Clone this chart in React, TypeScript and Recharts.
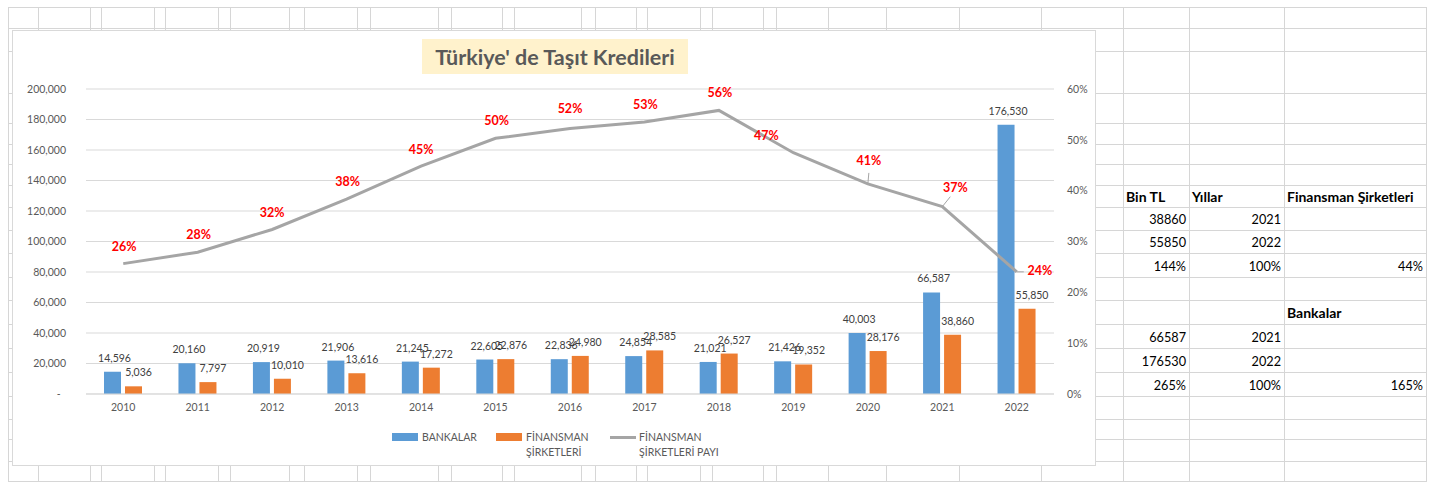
import React from 'react';
import { ComposedChart, Bar, Line, XAxis, YAxis, CartesianGrid, LabelList, Legend } from 'recharts';

// ---------- data ----------
const years = ['2010', '2011', '2012', '2013', '2014', '2015', '2016', '2017', '2018', '2019', '2020', '2021', '2022'];
const bankalar = [14596, 20160, 20919, 21906, 21245, 22605, 22836, 24854, 21021, 21426, 40003, 66587, 176530];
const finansman = [5036, 7797, 10010, 13616, 17272, 22876, 24980, 28585, 26527, 19352, 28176, 38860, 55850];
const finansmanPayi = [0.2565, 0.2789, 0.3236, 0.3833, 0.4484, 0.503, 0.5224, 0.5349, 0.5579, 0.4746, 0.4133, 0.3685, 0.2403];
const leftTicks = [0, 20000, 40000, 60000, 80000, 100000, 120000, 140000, 160000, 180000, 200000];
const rightTicks = [0, 0.1, 0.2, 0.3, 0.4, 0.5, 0.6];

const chartTitle = "Türkiye' de Taşıt Kredileri";
const seriesNames = ['BANKALAR', 'FİNANSMAN ŞİRKETLERİ', 'FİNANSMAN ŞİRKETLERİ PAYI'];

const tableHeader = ['Bin TL', 'Yıllar', 'Finansman Şirketleri'];
const finansmanRows = [
  ['38860', '2021', ''],
  ['55850', '2022', ''],
  ['144%', '100%', '44%'],
];
const bankalarTitle = 'Bankalar';
const bankalarRows = [
  ['66587', '2021', ''],
  ['176530', '2022', ''],
  ['265%', '100%', '165%'],
];

// ---------- layout (not data) ----------
const gridCols = [8, 38, 90, 101, 154, 165, 218, 230, 289, 304, 357, 370, 438, 451, 502, 514, 581, 595, 636, 647, 700, 712, 763, 776, 828, 886, 959, 1041, 1123, 1189, 1284, 1426];
const gridRows = [7, 28, 51, 93, 123, 144, 164, 185, 207, 230, 253, 277, 300, 324, 348, 372, 396, 419, 439, 461, 481];
const tableCols = [1123, 1189, 1284, 1426];

// label offsets (dx, dy) for the share labels, relative to the point
const pctShift: [number, number][] = [
  [1, -17], [1, -18], [0, -17], [1, -17.5], [0, -17], [1, -17.5], [0, -20],
  [1, -18], [1, -17.5], [-27, -17], [1, -23], [13, -19], [23, -1],
];
const leaders: Record<number, [number, number]> = { 10: [1, -11], 11: [8, -10], 12: [7, 0] };

const data = years.map((y, i) => ({
  year: y,
  bankalar: bankalar[i],
  finansman: finansman[i],
  pay: finansmanPayi[i],
}));

const FONT = 'Lato, "Open Sans", sans-serif';

const PctLabel = (props: any) => {
  const vb = props.viewBox || {};
  const x = props.x ?? vb.x;
  const y = props.y ?? vb.y;
  const index = props.index;
  const value = props.value;
  if (x == null || y == null || index == null) return null;
  const [dx, dy] = pctShift[index] || [0, -17];
  const ld = leaders[index];
  return (
    <g>
      {ld && <line x1={x} y1={y} x2={x + ld[0]} y2={y + ld[1]} stroke="#A5A5A5" strokeWidth={1} />}
      <text
        x={x + dx}
        y={y + dy}
        textAnchor="middle"
        dominantBaseline="central"
        fill="#FF0000"
        fontWeight="bold"
        fontSize={12.5}
        fontFamily={FONT}
      >
        {Math.round(Number(value) * 100)}%
      </text>
    </g>
  );
};

const makeBarLabel = (shiftX: number) => (props: any) => {
  const vb = props.viewBox || {};
  const x = (props.x ?? vb.x) as number;
  const y = (props.y ?? vb.y) as number;
  const w = (props.width ?? vb.width ?? 0) as number;
  if (x == null || y == null || props.value == null) return null;
  return (
    <text
      x={x + w / 2 + shiftX}
      y={y - 10}
      textAnchor="middle"
      fill="#404040"
      fontSize={10.5}
      fontFamily={FONT}
    >
      {Number(props.value).toLocaleString('en-US')}
    </text>
  );
};
const BankLabel = makeBarLabel(2);
const FinLabel = makeBarLabel(5);

const LegendContent = () => {
  const txt: React.CSSProperties = {
    position: 'absolute',
    fontFamily: FONT,
    fontSize: 10.5,
    color: '#595959',
    lineHeight: '15px',
    whiteSpace: 'pre',
  };
  const [n1, n2, n3] = seriesNames;
  return (
    <div style={{ position: 'relative', width: 1082, height: 41 }}>
      <div style={{ position: 'absolute', left: 379, top: 9, width: 26, height: 8, background: '#5B9BD5' }} />
      <div style={{ ...txt, left: 409, top: 6 }}>{n1}</div>
      <div style={{ position: 'absolute', left: 483, top: 9, width: 26, height: 8, background: '#ED7D31' }} />
      <div style={{ ...txt, left: 513, top: 6 }}>{n2.replace(' ', '\n')}</div>
      <div style={{ position: 'absolute', left: 597, top: 12, width: 26, height: 3, background: '#A5A5A5' }} />
      <div style={{ ...txt, left: 626, top: 6 }}>{n3.replace(' ', '\n')}</div>
    </div>
  );
};

const Cell = ({ x0, x1, y0, y1, text, align, bold }: any) => (
  <div
    style={{
      position: 'absolute',
      left: x0,
      top: y0,
      width: x1 - x0,
      height: y1 - y0,
      display: 'flex',
      alignItems: 'center',
      justifyContent: align === 'right' ? 'flex-end' : 'flex-start',
      boxSizing: 'border-box',
      padding: '1px 3px 0 3px',
      fontFamily: FONT,
      fontSize: bold ? 14 : 12.7,
      fontWeight: bold ? 'bold' : 'normal',
      color: '#000',
      whiteSpace: 'nowrap',
    }}
  >
    {text}
  </div>
);

export default function App() {
  const cells: any[] = [];
  tableHeader.forEach((t, c) => {
    cells.push({ x0: tableCols[c], x1: tableCols[c + 1], y0: gridRows[7], y1: gridRows[8], text: t, align: 'left', bold: true });
  });
  finansmanRows.forEach((row, r) => {
    row.forEach((t, c) => {
      if (t) cells.push({ x0: tableCols[c], x1: tableCols[c + 1], y0: gridRows[8 + r], y1: gridRows[9 + r], text: t, align: 'right' });
    });
  });
  cells.push({ x0: tableCols[2], x1: tableCols[3], y0: gridRows[12], y1: gridRows[13], text: bankalarTitle, align: 'left', bold: true });
  bankalarRows.forEach((row, r) => {
    row.forEach((t, c) => {
      if (t) cells.push({ x0: tableCols[c], x1: tableCols[c + 1], y0: gridRows[13 + r], y1: gridRows[14 + r], text: t, align: 'right' });
    });
  });

  return (
    <div style={{ position: 'absolute', left: 0, top: 0, width: 1437, height: 482, background: '#fff', overflow: 'hidden' }}>
      <svg width={1437} height={482} style={{ position: 'absolute', left: 0, top: 0 }}>
        {gridCols.map((x) => (
          <line key={'c' + x} x1={x + 0.5} x2={x + 0.5} y1={gridRows[0]} y2={482} stroke="#D6D6D6" strokeWidth={1} />
        ))}
        {gridRows.map((y) => (
          <line key={'r' + y} x1={gridCols[0]} x2={gridCols[gridCols.length - 1] + 1} y1={y + 0.5} y2={y + 0.5} stroke="#D6D6D6" strokeWidth={1} />
        ))}
      </svg>

      {cells.map((c, i) => (
        <Cell key={i} {...c} />
      ))}

      <div
        style={{
          position: 'absolute',
          left: 12,
          top: 30,
          width: 1084,
          height: 436,
          boxSizing: 'border-box',
          border: '1px solid #D9D9D9',
          background: '#fff',
        }}
      >
        <ComposedChart
          width={1082}
          height={434}
          data={data}
          margin={{ top: 58, right: 0, bottom: 0, left: 0 }}
          barSize={17}
          barGap={4}
        >
          <CartesianGrid yAxisId="left" vertical={false} stroke="#D9D9D9" strokeWidth={1} />
          <XAxis
            dataKey="year"
            height={71}
            tickLine={false}
            tickSize={0}
            tickMargin={10}
            axisLine={{ stroke: '#D9D9D9' }}
            tick={{ fill: '#595959', fontSize: 10.5, fontFamily: FONT }}
            interval={0}
          />
          <YAxis
            yAxisId="left"
            width={73}
            domain={[0, 200000]}
            ticks={leftTicks}
            tickLine={false}
            axisLine={false}
            tickSize={0}
            tickMargin={20}
            interval={0}
            tick={{ fill: '#595959', fontSize: 10.5, fontFamily: FONT }}
            tickFormatter={(v: number) => (v === 0 ? '-\u00A0\u00A0' : v.toLocaleString('en-US'))}
          />
          <YAxis
            yAxisId="right"
            orientation="right"
            width={41}
            domain={[0, 0.6]}
            ticks={rightTicks}
            tickLine={false}
            axisLine={false}
            tickSize={0}
            tickMargin={13}
            interval={0}
            tick={{ fill: '#595959', fontSize: 10.5, fontFamily: FONT, textAnchor: 'start' }}
            tickFormatter={(v: number) => `${Math.round(v * 100)}%`}
          />
          <Legend
            verticalAlign="middle"
            align="center"
            layout="horizontal"
            wrapperStyle={{ top: 393, left: 0, width: 1082, height: 41 }}
            content={() => <LegendContent />}
          />
          <Bar yAxisId="left" dataKey="bankalar" name={seriesNames[0]} fill="#5B9BD5" isAnimationActive={false}>
            <LabelList dataKey="bankalar" content={<BankLabel />} />
          </Bar>
          <Bar yAxisId="left" dataKey="finansman" name={seriesNames[1]} fill="#ED7D31" isAnimationActive={false}>
            <LabelList dataKey="finansman" content={<FinLabel />} />
          </Bar>
          <Line
            yAxisId="right"
            type="linear"
            dataKey="pay"
            name={seriesNames[2]}
            stroke="#A5A5A5"
            strokeWidth={3}
            dot={false}
            activeDot={false}
            isAnimationActive={false}
          >
            <LabelList dataKey="pay" content={<PctLabel />} />
          </Line>
        </ComposedChart>

        <div
          style={{
            position: 'absolute',
            left: 409,
            top: 8,
            width: 266,
            height: 35,
            background: '#FFF2CC',
            display: 'flex',
            alignItems: 'center',
            justifyContent: 'center',
            fontFamily: FONT,
            fontWeight: 'bold',
            fontSize: 21.5,
            color: '#595959',
            whiteSpace: 'nowrap',
          }}
        >
          {chartTitle}
        </div>
      </div>
    </div>
  );
}
